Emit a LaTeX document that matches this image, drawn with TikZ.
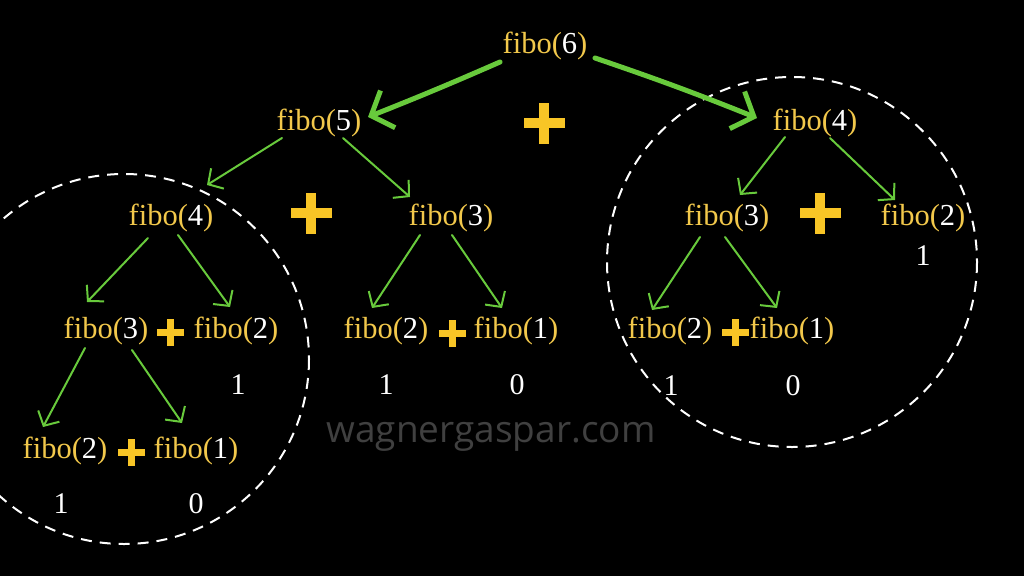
\documentclass[tikz,border=0pt]{standalone}
\usepackage{fontspec}
\setmainfont{Liberation Serif}
\newfontfamily\wmfont{Open Sans}
\usetikzlibrary{arrows.meta}
\definecolor{fy}{RGB}{242,200,75}
\definecolor{gr}{RGB}{104,202,60}
\definecolor{gold}{RGB}{248,197,38}
\definecolor{wm}{RGB}{64,64,64}
\newcommand\fibotxt[1]{fibo(\textcolor{white}{#1})}
\newcommand\plusmark[5]{%
  \coordinate (#1) at (#2,#3);
  \fill[gold] ([shift={(-#4,-#5)}]#1) rectangle ([shift={(#4,#5)}]#1);
  \fill[gold] ([shift={(-#5,-#4)}]#1) rectangle ([shift={(#5,#4)}]#1);}
\begin{document}
\begin{tikzpicture}[x=1pt,y=-1pt,
  fibo/.style={text=fy, inner sep=0pt, anchor=base, font=\fontsize{30.5}{36}\selectfont},
  val/.style={text=white, inner sep=0pt, anchor=base, font=\fontsize{30}{36}\selectfont},
  thinarr/.style={draw=gr, line width=2pt, line cap=round, line join=round,
    -{Straight Barb[length=11pt,width=24pt]}},
  thickarr/.style={draw=gr, line width=5pt, line cap=round, line join=round,
    -{Straight Barb[length=18pt,width=40pt]}},
  ring/.style={draw=white, line width=2pt, dash pattern=on 11pt off 8pt},
]
\fill[black] (0,0) rectangle (1024,576);
\useasboundingbox (0,0) rectangle (1024,576);
\clip (0,0) rectangle (1024,576);

% watermark
\node[text=wm, inner sep=0pt, anchor=base, font=\wmfont\fontsize{37}{44}\selectfont] (wmark) at (491,442) {wagnergaspar.com};

% dashed circles
\draw[ring] (124,359) circle[radius=185];
\draw[ring] (792,262) circle[radius=185];

% nodes
\node[fibo] (f6) at (545,53) {\fibotxt{6}};
\node[fibo] (f5) at (319,130) {\fibotxt{5}};
\node[fibo] (f4r) at (815,130) {\fibotxt{4}};
\node[fibo] (f4l) at (171,225) {\fibotxt{4}};
\node[fibo] (f3m) at (451,225) {\fibotxt{3}};
\node[fibo] (f3r) at (727,225) {\fibotxt{3}};
\node[fibo] (f2r) at (923,225) {\fibotxt{2}};
\node[fibo] (f3l) at (106,338) {\fibotxt{3}};
\node[fibo] (f2l) at (236,338) {\fibotxt{2}};
\node[fibo] (f2m) at (386,338) {\fibotxt{2}};
\node[fibo] (f1m) at (516,338) {\fibotxt{1}};
\node[fibo] (f2rr) at (670,338) {\fibotxt{2}};
\node[fibo] (f1r) at (792,338) {\fibotxt{1}};
\node[fibo] (f2b) at (65,458) {\fibotxt{2}};
\node[fibo] (f1b) at (196,458) {\fibotxt{1}};

% values
\node[val] (v2r) at (923,265) {1};
\node[val] (v2l) at (238,394) {1};
\node[val] (v2m) at (386,394) {1};
\node[val] (v1m) at (517,394) {0};
\node[val] (v2rr) at (671,395) {1};
\node[val] (v1r) at (793,395) {0};
\node[val] (v2b) at (61,513) {1};
\node[val] (v1b) at (196,513) {0};

% plus signs
\plusmark{p1}{544}{123}{20.5}{5}
\plusmark{p2}{311}{213}{20.5}{5}
\plusmark{p3}{820}{213}{20.5}{5}
\plusmark{p4}{170}{332}{13.5}{3.5}
\plusmark{p5}{452}{333}{13.5}{3.5}
\plusmark{p6}{735}{332}{13.5}{3.5}
\plusmark{p7}{131}{452}{13.5}{3.5}

% thick connectors
\draw[thickarr] ([shift={(-45,9)}]f6.base) to[bend left=1] ([shift={(49,-13)}]f5.base);
\draw[thickarr] ([shift={(50,5)}]f6.base) to[bend left=1.5] ([shift={(-58,-12)}]f4r.base);

% thin connectors
\draw[thinarr] ([shift={(-37,8)}]f5.base) -- ([shift={(36,-40)}]f4l.base);
\draw[thinarr] ([shift={(24,8)}]f5.base) -- ([shift={(-41,-28)}]f3m.base);
\draw[thinarr] ([shift={(-23,13)}]f4l.base) -- ([shift={(-19,-36)}]f3l.base);
\draw[thinarr] ([shift={(7,10)}]f4l.base) -- ([shift={(-6,-31)}]f2l.base);
\draw[thinarr] ([shift={(-21,10)}]f3l.base) -- ([shift={(-22,-31)}]f2b.base);
\draw[thinarr] ([shift={(26,12)}]f3l.base) -- ([shift={(-14,-35)}]f1b.base);
\draw[thinarr] ([shift={(-31,10)}]f3m.base) -- ([shift={(-14,-30)}]f2m.base);
\draw[thinarr] ([shift={(1,10)}]f3m.base) -- ([shift={(-14,-30)}]f1m.base);
\draw[thinarr] ([shift={(-30,7)}]f4r.base) -- ([shift={(13,-30)}]f3r.base);
\draw[thinarr] ([shift={(15,8)}]f4r.base) -- ([shift={(-28,-25)}]f2r.base);
\draw[thinarr] ([shift={(-27,12)}]f3r.base) -- ([shift={(-18,-28)}]f2rr.base);
\draw[thinarr] ([shift={(-2,12)}]f3r.base) -- ([shift={(-15,-30)}]f1r.base);
\end{tikzpicture}
\end{document}
